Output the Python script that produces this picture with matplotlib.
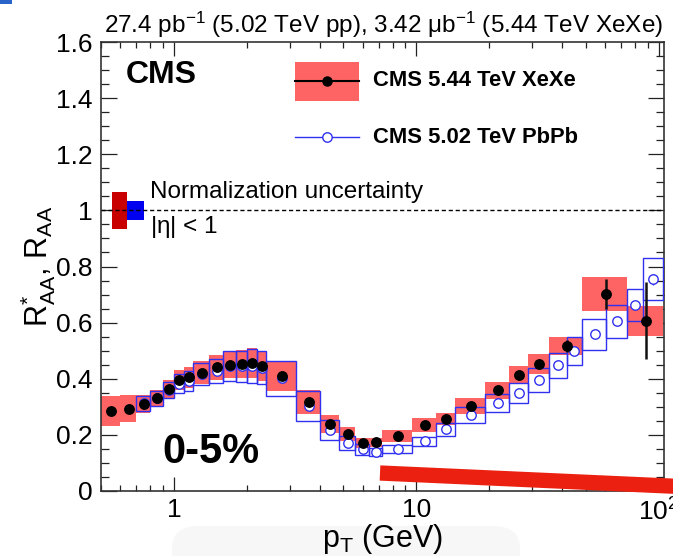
import matplotlib
matplotlib.use("Agg")
import matplotlib.pyplot as plt
import numpy as np
from matplotlib.ticker import FixedLocator, LogLocator, MultipleLocator, NullFormatter, FixedFormatter
from matplotlib.lines import Line2D
from matplotlib.patches import Rectangle, FancyBboxPatch

plt.rcParams['font.family'] = ['Liberation Sans', 'DejaVu Sans']
plt.rcParams['mathtext.fontset'] = 'custom'
plt.rcParams['mathtext.rm'] = 'Liberation Sans'
plt.rcParams['mathtext.it'] = 'Liberation Sans:italic'
plt.rcParams['mathtext.default'] = 'regular'

# ---------------- data ----------------
xexe_edges = [0.5, 0.6, 0.7, 0.8, 0.9, 1.0, 1.1, 1.2, 1.4, 1.6, 1.8, 2.0, 2.2, 2.4, 3.2,
              4.0, 4.8, 5.6, 6.4, 7.2, 9.6, 12.0, 14.4, 19.2, 24.0, 28.8, 35.2, 48.0, 73.6, 103.6]
xexe_raa = [0.285, 0.293, 0.311, 0.331, 0.365, 0.395, 0.405, 0.422, 0.441, 0.449, 0.454, 0.456,
            0.445, 0.410, 0.317, 0.238, 0.203, 0.172, 0.174, 0.196, 0.236, 0.256, 0.303, 0.359,
            0.413, 0.453, 0.517, 0.702, 0.607]
xexe_stat = [0.003, 0.003, 0.003, 0.003, 0.003, 0.003, 0.003, 0.003, 0.003, 0.003, 0.003, 0.003,
             0.003, 0.003, 0.003, 0.003, 0.003, 0.003, 0.003, 0.004, 0.004, 0.005, 0.006, 0.007,
             0.009, 0.012, 0.020, 0.053, 0.138]
xexe_syst = [0.052, 0.048, 0.032, 0.030, 0.032, 0.036, 0.038, 0.040, 0.044, 0.048, 0.050, 0.052,
             0.052, 0.055, 0.043, 0.033, 0.026, 0.018, 0.016, 0.020, 0.024, 0.022, 0.028, 0.030,
             0.033, 0.035, 0.032, 0.060, 0.054]

pbpb_edges = [0.7, 0.8, 0.9, 1.0, 1.1, 1.2, 1.4, 1.6, 1.8, 2.0, 2.2, 2.4, 3.2, 4.0, 4.8, 5.6,
              6.4, 7.2, 9.6, 12.0, 14.4, 19.2, 24.0, 28.8, 35.2, 41.6, 48.0, 60.8, 73.6, 86.4, 103.6]
pbpb_raa = [0.312, 0.330, 0.360, 0.382, 0.393, 0.416, 0.429, 0.446, 0.444, 0.445, 0.440, 0.401,
            0.304, 0.217, 0.172, 0.149, 0.138, 0.149, 0.177, 0.220, 0.271, 0.312, 0.348, 0.395,
            0.448, 0.498, 0.558, 0.605, 0.663, 0.754]
pbpb_stat = [0.001] * 26 + [0.004, 0.006, 0.010, 0.020]
pbpb_syst = [0.026, 0.027, 0.030, 0.034, 0.036, 0.039, 0.043, 0.054, 0.055, 0.060, 0.059, 0.062,
             0.053, 0.037, 0.025, 0.020, 0.015, 0.014, 0.016, 0.023, 0.027, 0.032, 0.036, 0.042,
             0.045, 0.050, 0.055, 0.059, 0.058, 0.075]

norm_xexe = 0.067
norm_pbpb = 0.033

title_text = r"27.4 pb$^{-1}$ (5.02 TeV pp), 3.42 $\mu$b$^{-1}$ (5.44 TeV XeXe)"
leg_labels = ["CMS 5.44 TeV XeXe", "CMS 5.02 TeV PbPb"]
x_ticks = [1, 10, 100]
x_ticklabels = ["1", "10", r"$10^{2}$"]

# ---------------- figure ----------------
W, H = 673, 556
fig = plt.figure(figsize=(W / 100, H / 100), dpi=100)
L, R, T, B = 101, 664, 42, 491
ax = fig.add_axes([L / W, 1 - B / H, (R - L) / W, (B - T) / H])


def axx(px):
    return (px - L) / (R - L)


def axy(py):
    return (B - py) / (B - T)


# faint background artefacts
fig.add_artist(FancyBboxPatch((172 / W, -0.05), (520 - 172) / W, (0.05 + 1 - 526 / H),
                              boxstyle="round,pad=0,rounding_size=0.04", transform=fig.transFigure,
                              facecolor='#f7f7f7', edgecolor='none', zorder=-10))
fig.add_artist(Rectangle((0, 1 - 4 / H), 12 / W, 4 / H, transform=fig.transFigure,
                         facecolor='#2a64c8', edgecolor='none'))

red_fill = '#fe6464'
blue = '#3030f0'

xe_lo = np.array(xexe_edges[:-1]); xe_hi = np.array(xexe_edges[1:])
xe_c = 0.5 * (xe_lo + xe_hi)
xe_v = np.array(xexe_raa); xe_s = np.array(xexe_syst)
pb_lo = np.array(pbpb_edges[:-1]); pb_hi = np.array(pbpb_edges[1:])
pb_c = 0.5 * (pb_lo + pb_hi)
pb_v = np.array(pbpb_raa); pb_s = np.array(pbpb_syst)

ax.bar(xe_lo, 2 * xe_s, width=xe_hi - xe_lo, bottom=xe_v - xe_s, align='edge',
       color=red_fill, edgecolor='none', zorder=2)
ax.bar(pb_lo, 2 * pb_s, width=pb_hi - pb_lo, bottom=pb_v - pb_s, align='edge',
       facecolor='none', edgecolor=blue, linewidth=1.0, zorder=3)
ax.errorbar(pb_c, pb_v, yerr=pbpb_stat, fmt='o', ms=6.8, mfc='white', mec=blue, mew=1.0,
            ecolor=blue, elinewidth=1.0, capsize=0, zorder=4)
ax.errorbar(xe_c, xe_v, yerr=xexe_stat, fmt='o', ms=6.8, color='black', ecolor='#111111',
            elinewidth=1.8, capsize=0, zorder=5)

# normalization uncertainty boxes
ax.bar([0.553], [2 * norm_xexe], width=[0.641 - 0.553], bottom=[1 - norm_xexe], align='edge',
       color='#c80000', edgecolor='none', zorder=6)
ax.bar([0.641], [2 * norm_pbpb], width=[0.751 - 0.641], bottom=[1 - norm_pbpb], align='edge',
       color='#0000f0', edgecolor='none', zorder=6)
ax.axhline(1.0, color='black', lw=1.0, ls=(0, (3, 2)), zorder=7)

ax.set_xscale('log')
ax.set_xlim(0.5, 105)
ax.set_ylim(0, 1.6)

ax.xaxis.set_major_locator(FixedLocator(x_ticks))
ax.xaxis.set_major_formatter(FixedFormatter(x_ticklabels))
ax.xaxis.set_minor_locator(LogLocator(base=10, subs=np.arange(2, 10)))
ax.xaxis.set_minor_formatter(NullFormatter())
ax.yaxis.set_minor_locator(MultipleLocator(0.05))
ax.set_yticks(np.arange(0, 1.61, 0.2))
ax.set_yticklabels(['0', '0.2', '0.4', '0.6', '0.8', '1', '1.2', '1.4', '1.6'])

ax.tick_params(which='both', direction='in', top=True, right=True, colors='#222222',
               labelcolor='black', labelsize=19, width=0.9)
ax.tick_params(axis='x', which='major', length=10, pad=5)
ax.tick_params(axis='x', which='minor', length=4.5)
ax.tick_params(axis='y', which='major', length=11.5, pad=6)
ax.tick_params(axis='y', which='minor', length=5.5)
for sp in ax.spines.values():
    sp.set_linewidth(1.2)
    sp.set_color('#333333')

ax.set_xlabel(r"p$_{T}$ (GeV)", fontsize=22)
ax.xaxis.set_label_coords(0.5, axy(522))
ax.set_ylabel(r"R$^{*}_{AA}$, R$_{AA}$", fontsize=22)
ax.yaxis.set_label_coords(axx(58), 0.5)

fig.text(663 / W, 1 - 33 / H, title_text, ha='right', va='baseline', fontsize=17.5)

tr = ax.transAxes
ax.text(axx(126), axy(75), "CMS", fontsize=23, fontweight='bold', va='center', ha='left', transform=tr)
ax.text(axx(162), axy(452), "0-5%", fontsize=30, fontweight='bold', va='center', ha='left', transform=tr)
ax.text(axx(150), axy(198), "Normalization uncertainty", fontsize=17.5, va='baseline', ha='left',
        transform=tr)
ax.text(axx(150), axy(233), r"|$\eta$| < 1", fontsize=17.5, va='baseline', ha='left', transform=tr)

# legend (manual)
ax.add_patch(Rectangle((axx(295), axy(100.7)), axx(359.3) - axx(295), axy(61.7) - axy(100.7),
                       transform=tr, facecolor=red_fill, edgecolor='none', zorder=8))
ax.add_line(Line2D([axx(295), axx(359.3)], [axy(81), axy(81)], transform=tr,
                   color='black', lw=1.5, zorder=9))
ax.add_line(Line2D([axx(327.3)], [axy(81)], transform=tr, marker='o', ms=6.5,
                   color='black', lw=0, zorder=9))
ax.add_line(Line2D([axx(295), axx(359.3)], [axy(137.3), axy(137.3)], transform=tr,
                   color=blue, lw=1.0, zorder=9))
ax.add_line(Line2D([axx(327.3)], [axy(137.3)], transform=tr, marker='o', ms=6.8,
                   mfc='white', mec=blue, mew=1.0, lw=0, zorder=9))
ax.text(axx(372.7), axy(81), leg_labels[0], fontsize=15.8, fontweight='bold', va='center', ha='left',
        transform=tr)
ax.text(axx(372.7), axy(137.3), leg_labels[1], fontsize=15.8, fontweight='bold', va='center', ha='left',
        transform=tr)

# red stroke annotation across lower right
fig.add_artist(Line2D([380 / W, 680 / W], [1 - 473 / H, 1 - 486.5 / H], transform=fig.transFigure,
                      color='#ec2010', lw=11, solid_capstyle='butt', zorder=20))

fig.savefig("out.png", dpi=100)
